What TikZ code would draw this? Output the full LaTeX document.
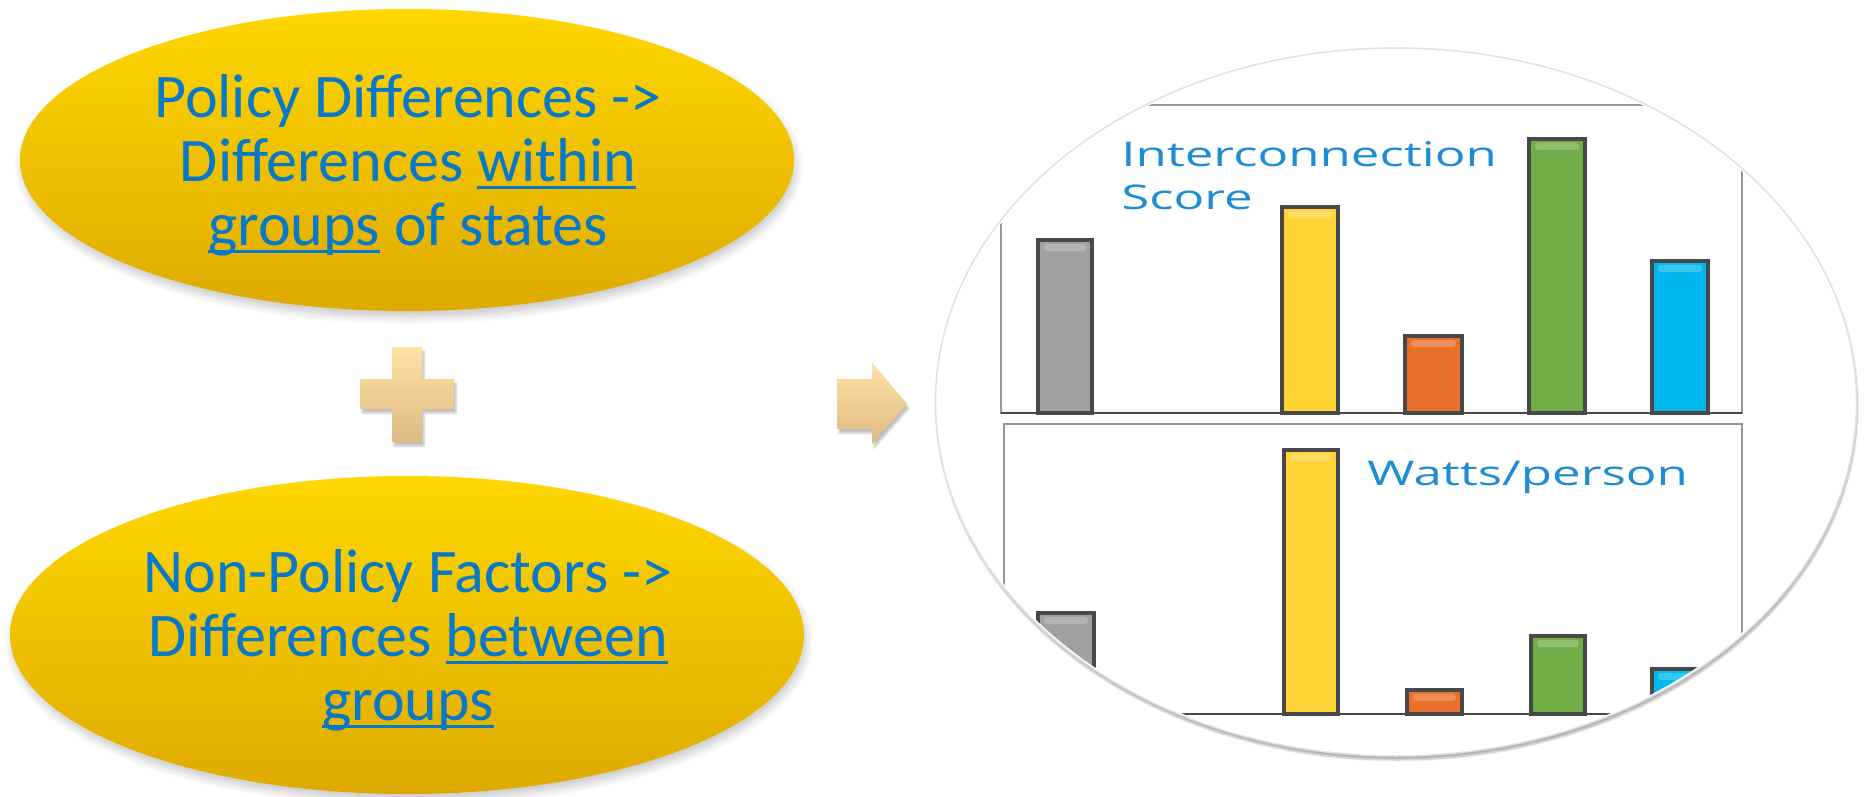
\documentclass[tikz,border=0pt]{standalone}
\usepackage{fontspec}
\setmainfont{Carlito}
\newfontfamily\chartfont{Open Sans}
\usetikzlibrary{shapes.geometric,shadows.blur,calc}

\definecolor{txtblue}{RGB}{8,120,200}
\definecolor{chartblue}{RGB}{30,140,210}
\definecolor{goldtop}{RGB}{255,215,0}
\definecolor{goldbot}{RGB}{222,170,0}
\definecolor{tantop}{RGB}{255,225,164}
\definecolor{tanbot}{RGB}{222,186,132}
\definecolor{barline}{RGB}{72,72,72}
\definecolor{framegray}{RGB}{150,150,150}
\definecolor{bargray}{RGB}{160,160,160}
\definecolor{baryellow}{RGB}{255,212,55}
\definecolor{barorange}{RGB}{232,112,42}
\definecolor{bargreen}{RGB}{112,173,71}
\definecolor{barblue}{RGB}{0,184,238}

% underline that sits below the baseline and crosses descenders
\newcommand\ulword[1]{\setbox0\hbox{#1}\rlap{\rule[-0.12em]{\wd0}{0.05em}}\box0\relax}

% one bar: left x, right x, bottom y, top y, fill colour
\newcommand\chartbar[5]{%
  \draw[bar, fill=#5] (#1,#3) rectangle (#2,#4);
  \fill[white, opacity=0.22, rounded corners=3pt]
    ($(#1,#4)+(6,4)$) rectangle ($(#2,#4)+(-6,11)$);}

\begin{document}
\begin{tikzpicture}[x=1pt,y=-1pt,
  bubble/.style={ellipse, inner sep=0pt, draw=none,
    top color=goldtop, bottom color=goldbot,
    blur shadow={shadow xshift=2pt, shadow yshift=-6pt,
      shadow blur radius=8pt, shadow blur steps=10, shadow opacity=22}},
  bubbletext/.style={text=txtblue, align=center, inner sep=0pt,
    font=\fontsize{62}{64}\selectfont},
  tanshape/.style={top color=tantop, bottom color=tanbot, draw=none,
    blur shadow={shadow xshift=2pt, shadow yshift=-4pt,
      shadow blur steps=5, shadow opacity=25}},
  bar/.style={draw=barline, line width=4pt},
  frame/.style={draw=framegray, line width=2pt},
  axis/.style={draw=barline, line width=2.4pt},
  charttext/.style={text=chartblue, inner sep=0pt, anchor=base west,
    xscale=1.5, font=\chartfont\fontsize{34}{40}\selectfont}]

\useasboundingbox (0,0) rectangle (1864,797);

% two explanatory bubbles
\node[bubble, minimum width=774pt, minimum height=302pt] (policy) at (407,160) {};
\node[bubbletext] (policytext) at (408,165)
  {Policy Differences ->\\ Differences \ulword{within}\\ \ulword{groups} of states};
\node[bubble, minimum width=794pt, minimum height=318pt] (nonpolicy) at (407,635) {};
\node[bubbletext] (nonpolicytext) at (408,640)
  {Non-Policy Factors ->\\ Differences \ulword{between}\\ \ulword{groups}};

% plus sign between the bubbles
\path[tanshape] (392,347) -- (422,347) -- (422,379) -- (454,379) -- (454,409)
  -- (422,409) -- (422,442) -- (392,442) -- (392,409) -- (360,409)
  -- (360,379) -- (392,379) -- cycle;

% block arrow towards the charts
\path[tanshape] (837,379) -- (872,379) -- (872,363) -- (907,404)
  -- (872,444) -- (872,429) -- (837,429) -- cycle;

% round panel holding the charts
\node[ellipse, inner sep=0pt, minimum width=921pt, minimum height=708pt,
  fill=white, draw=black!12, line width=1.5pt,
  blur shadow={shadow xshift=1pt, shadow yshift=-4pt,
    shadow blur steps=8, shadow opacity=30}] (panel) at (1396,402) {};

\begin{scope}
  \clip (panel.center) ellipse (458pt and 352pt);

  % upper chart
  \draw[frame] (1001,105) rectangle (1742,413);
  \chartbar{1038}{1092}{413}{240}{bargray}
  \chartbar{1282}{1338}{413}{207}{baryellow}
  \chartbar{1405}{1462}{413}{336}{barorange}
  \chartbar{1529}{1585}{413}{139}{bargreen}
  \chartbar{1652}{1708}{413}{261}{barblue}
  \draw[axis] (1001,413) -- (1742,413);
  \node[charttext] (ictitle) at (1121,167) {Interconnection};
  \node[charttext] (sctitle) at (1121,209) {Score};

  % lower chart
  \draw[frame] (1004,424) rectangle (1742,714);
  \chartbar{1038}{1094}{714}{613}{bargray}
  \chartbar{1284}{1338}{714}{450}{baryellow}
  \chartbar{1407}{1462}{714}{690}{barorange}
  \chartbar{1531}{1585}{714}{636}{bargreen}
  \chartbar{1652}{1708}{714}{669}{barblue}
  \draw[axis] (1004,714) -- (1742,714);
  \node[charttext] (wptitle) at (1367,485) {Watts/person};
\end{scope}

\end{tikzpicture}
\end{document}
